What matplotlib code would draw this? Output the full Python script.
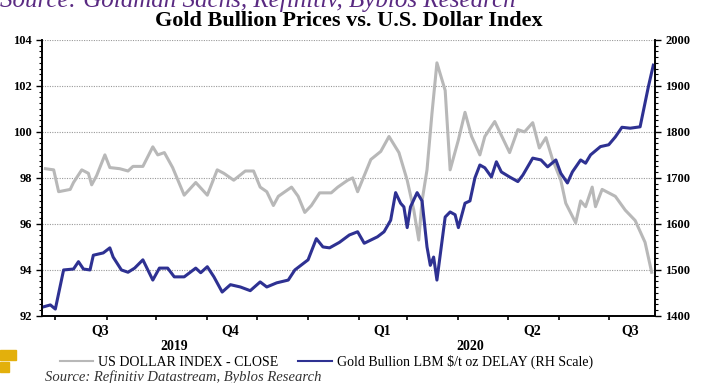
import matplotlib
matplotlib.use('Agg')
import matplotlib.pyplot as plt
import matplotlib.dates as mdates
from matplotlib.ticker import MultipleLocator, FixedLocator, FixedFormatter
import pandas as pd

plt.rcParams['font.family'] = ['Liberation Serif', 'DejaVu Serif']

# US dollar index (left scale)
usd_dates = ['2019-07-26', '2019-07-31', '2019-08-03', '2019-08-10', '2019-08-12', '2019-08-17',
             '2019-08-21', '2019-08-23', '2019-08-26', '2019-08-31', '2019-09-03', '2019-09-09',
             '2019-09-14', '2019-09-17', '2019-09-23', '2019-09-29', '2019-10-02', '2019-10-06',
             '2019-10-11', '2019-10-18', '2019-10-25', '2019-11-01', '2019-11-07', '2019-11-11',
             '2019-11-17', '2019-11-24', '2019-11-29', '2019-12-03', '2019-12-07', '2019-12-11',
             '2019-12-14', '2019-12-22', '2019-12-26', '2019-12-30', '2020-01-03', '2020-01-08',
             '2020-01-15', '2020-01-19', '2020-01-25', '2020-01-28', '2020-01-31', '2020-02-08',
             '2020-02-14', '2020-02-19', '2020-02-25', '2020-03-01', '2020-03-05', '2020-03-08',
             '2020-03-10', '2020-03-13', '2020-03-16', '2020-03-19', '2020-03-24', '2020-03-27',
             '2020-04-01', '2020-04-05', '2020-04-09', '2020-04-14', '2020-04-17', '2020-04-23',
             '2020-04-27', '2020-05-02', '2020-05-07', '2020-05-11', '2020-05-16', '2020-05-20',
             '2020-05-24', '2020-05-28', '2020-06-02', '2020-06-05', '2020-06-11', '2020-06-14',
             '2020-06-17', '2020-06-21', '2020-06-23', '2020-06-27', '2020-07-05', '2020-07-11',
             '2020-07-17', '2020-07-23', '2020-07-27']
usd_close = [98.4, 98.35, 97.4, 97.5, 97.8, 98.35,
             98.2, 97.7, 98.1, 99.0, 98.45, 98.4,
             98.3, 98.5, 98.5, 99.35, 99.0, 99.1,
             98.45, 97.25, 97.8, 97.25, 98.35, 98.2,
             97.9, 98.3, 98.3, 97.6, 97.4, 96.8,
             97.2, 97.6, 97.2, 96.5, 96.8, 97.35,
             97.35, 97.6, 97.9, 98.0, 97.4, 98.8,
             99.15, 99.8, 99.1, 97.9, 96.6, 95.3,
             97.0, 98.35, 100.8, 103.0, 101.8, 98.35,
             99.65, 100.85, 99.8, 99.0, 99.8, 100.45,
             99.85, 99.1, 100.1, 100.0, 100.4, 99.3,
             99.75, 98.8, 97.9, 96.9, 96.05, 97.0,
             96.75, 97.6, 96.75, 97.5, 97.2, 96.6,
             96.15, 95.2, 93.9]

# Gold bullion $/oz (right scale)
gold_dates = ['2019-07-25', '2019-07-29', '2019-08-01', '2019-08-06', '2019-08-12', '2019-08-15',
              '2019-08-18', '2019-08-22', '2019-08-24', '2019-08-30', '2019-09-03', '2019-09-05',
              '2019-09-10', '2019-09-14', '2019-09-18', '2019-09-23', '2019-09-29', '2019-10-03',
              '2019-10-08', '2019-10-12', '2019-10-18', '2019-10-25', '2019-10-28', '2019-11-01',
              '2019-11-05', '2019-11-10', '2019-11-15', '2019-11-21', '2019-11-27', '2019-12-03',
              '2019-12-07', '2019-12-13', '2019-12-20', '2019-12-24', '2020-01-01', '2020-01-06',
              '2020-01-10', '2020-01-14', '2020-01-20', '2020-01-26', '2020-01-31', '2020-02-04',
              '2020-02-12', '2020-02-16', '2020-02-20', '2020-02-23', '2020-02-26', '2020-02-28',
              '2020-03-01', '2020-03-03', '2020-03-07', '2020-03-10', '2020-03-13', '2020-03-15',
              '2020-03-17', '2020-03-19', '2020-03-24', '2020-03-27', '2020-03-30', '2020-04-01',
              '2020-04-05', '2020-04-08', '2020-04-11', '2020-04-14', '2020-04-17', '2020-04-21',
              '2020-04-24', '2020-04-27', '2020-05-02', '2020-05-07', '2020-05-10', '2020-05-16',
              '2020-05-21', '2020-05-25', '2020-05-30', '2020-06-02', '2020-06-06', '2020-06-09',
              '2020-06-14', '2020-06-17', '2020-06-20', '2020-06-26', '2020-07-01', '2020-07-05',
              '2020-07-09', '2020-07-14', '2020-07-20', '2020-07-25', '2020-07-28']
gold_price = [1420, 1424, 1415, 1500, 1502, 1518,
              1502, 1500, 1532, 1537, 1548, 1528,
              1500, 1495, 1504, 1522, 1478, 1504,
              1504, 1485, 1485, 1504, 1494, 1507,
              1485, 1452, 1468, 1463, 1455, 1474,
              1463, 1472, 1478, 1500, 1522, 1568,
              1550, 1548, 1560, 1576, 1583, 1558,
              1572, 1583, 1608, 1668, 1645, 1637,
              1592, 1637, 1668, 1650, 1550, 1510,
              1528, 1478, 1615, 1626, 1620, 1592,
              1645, 1650, 1700, 1728, 1722, 1702,
              1735, 1713, 1702, 1692, 1706, 1743,
              1739, 1724, 1739, 1710, 1689, 1713,
              1739, 1732, 1750, 1768, 1772, 1789,
              1810, 1808, 1811, 1898, 1945]

quarter_labels = ['Q3', 'Q4', 'Q1', 'Q2', 'Q3']
quarter_pos = ['2019-08-28', '2019-11-15', '2020-02-15', '2020-05-16', '2020-07-14']
year_labels = ['2019', '2020']
year_pos = ['2019-10-12', '2020-04-08']

fig = plt.figure(figsize=(7.02, 3.83), dpi=100)
ax = fig.add_axes([0.06, 0.175, 0.873, 0.721])
ax2 = ax.twinx()

gray = '#b8b8b8'
blue = '#2e3192'
ax.plot(pd.to_datetime(usd_dates), usd_close, color=gray, lw=2.2, solid_joinstyle='round')
ax2.plot(pd.to_datetime(gold_dates), gold_price, color=blue, lw=2.2, solid_joinstyle='round')

ax.set_xlim(pd.Timestamp('2019-07-24'), pd.Timestamp('2020-07-29'))
ax.set_ylim(92, 104)
ax2.set_ylim(1400, 2000)
ax.yaxis.set_major_locator(MultipleLocator(2))
ax.yaxis.set_minor_locator(MultipleLocator(0.25))
ax2.yaxis.set_major_locator(MultipleLocator(100))
ax2.yaxis.set_minor_locator(MultipleLocator(12.5))

ax.grid(axis='y', color='#999999', lw=0.8, linestyle=(0, (1, 1.2)))

# month ticks on the x axis, quarter labels centred in each visible quarter
ax.xaxis.set_major_locator(mdates.MonthLocator())
ax.xaxis.set_major_formatter(plt.NullFormatter())
ax.xaxis.set_minor_locator(FixedLocator(mdates.date2num(pd.to_datetime(quarter_pos))))
ax.xaxis.set_minor_formatter(FixedFormatter(quarter_labels))
ax.tick_params(axis='x', which='major', length=3, width=1.2, direction='out', color='black')
ax.tick_params(axis='x', which='minor', length=0, pad=6, labelsize=10)
for t in ax.xaxis.get_minorticklabels():
    t.set_fontweight('bold')

ax.tick_params(axis='y', which='major', length=4, width=1, labelsize=9)
ax.tick_params(axis='y', which='minor', length=2, width=0.8)
ax2.tick_params(axis='y', which='major', length=4, width=1, labelsize=9)
ax2.tick_params(axis='y', which='minor', length=2, width=0.8)
for t in ax.get_yticklabels() + ax2.get_yticklabels():
    t.set_fontweight('bold')

for a in (ax, ax2):
    a.spines['top'].set_visible(False)
    for s in ('left', 'right', 'bottom'):
        a.spines[s].set_linewidth(1.2)

for lab, pos in zip(year_labels, year_pos):
    ax.text(pd.Timestamp(pos), -0.112, lab, transform=ax.get_xaxis_transform(),
            ha='center', va='center', fontsize=10, fontweight='bold')

fig.text(0.0, 1.0, 'Source: Goldman Sachs, Refinitiv, Byblos Research', fontsize=18,
         style='italic', color='#5a2a82', ha='left', va='center')
fig.text(0.497, 0.946, 'Gold Bullion Prices vs. U.S. Dollar Index', fontsize=16,
         fontweight='bold', ha='center', va='center')

# legend
h1, = ax.plot([], [], color=gray, lw=1.5)
h2, = ax.plot([], [], color=blue, lw=1.5)
fig.legend([h1, h2], ['US DOLLAR INDEX - CLOSE', 'Gold Bullion LBM $/t oz DELAY (RH Scale)'],
           loc='center left', bbox_to_anchor=(0.075, 0.055), ncol=2, frameon=False, fontsize=10,
           handlelength=2.4, columnspacing=1.4, handletextpad=0.4, borderpad=0)
fig.text(0.064, 0.016, 'Source: Refinitiv Datastream, Byblos Research', fontsize=10.5,
         style='italic', color='#333333', ha='left', va='center')

# yellow bullet blocks at lower left
fig.patches.append(plt.Rectangle((0.0, 0.060), 0.023, 0.026, transform=fig.transFigure,
                                 color='#e3b00c', figure=fig))
fig.patches.append(plt.Rectangle((0.0, 0.029), 0.013, 0.026, transform=fig.transFigure,
                                 color='#e3b00c', figure=fig))

fig.savefig('out.png', dpi=100)
